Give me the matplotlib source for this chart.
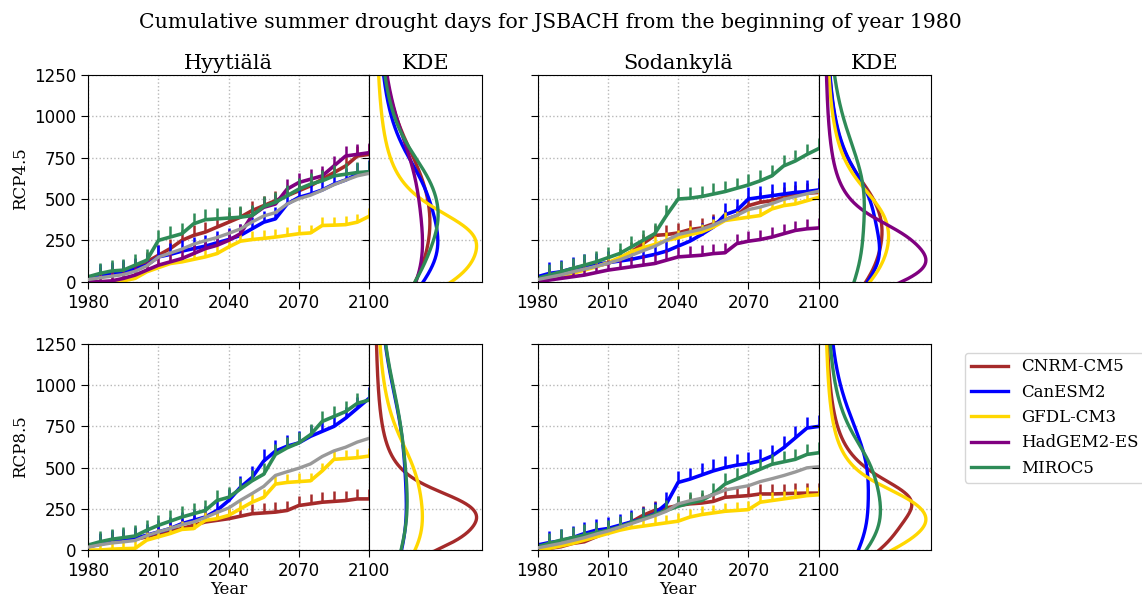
import numpy as np
import matplotlib
matplotlib.use("Agg")
import matplotlib.pyplot as plt
from matplotlib.lines import Line2D

# ---------------- data (every 5 years) ----------------
YEARS = list(range(1980, 2101, 5))
MODELS = ["CNRM-CM5", "CanESM2", "GFDL-CM3", "HadGEM2-ES", "MIROC5"]
COLORS = ["#a52a2a", "#0000ff", "#ffd700", "#800080", "#2e8b57"]

# Hyytiälä RCP4.5
hyy45_cnrm = [15, 30, 45, 60, 80, 120, 160, 200, 250, 280, 300, 330, 360, 390, 430, 460, 490, 520, 550, 580, 620, 660, 700, 760, 770]
hyy45_can = [20, 40, 50, 60, 75, 100, 150, 165, 185, 200, 215, 235, 255, 280, 320, 360, 380, 470, 510, 530, 555, 590, 615, 650, 665]
hyy45_gfdl = [0, 0, 0, 5, 20, 60, 85, 110, 120, 135, 150, 170, 210, 245, 255, 262, 270, 280, 290, 295, 340, 342, 345, 360, 395]
hyy45_had = [0, 0, 5, 20, 40, 70, 100, 120, 140, 170, 200, 220, 250, 290, 400, 450, 470, 560, 600, 620, 640, 700, 760, 770, 780]
hyy45_miroc = [30, 50, 65, 70, 100, 130, 250, 270, 290, 350, 375, 380, 385, 390, 400, 455, 480, 520, 560, 590, 610, 640, 650, 660, 665]

# Sodankylä RCP4.5
sod45_cnrm = [10, 20, 35, 55, 75, 95, 110, 140, 180, 230, 280, 285, 295, 315, 325, 350, 375, 400, 460, 480, 490, 510, 525, 535, 540]
sod45_can = [30, 50, 60, 80, 95, 105, 115, 125, 135, 150, 165, 185, 215, 245, 285, 330, 405, 430, 500, 510, 520, 530, 540, 545, 555]
sod45_gfdl = [5, 15, 30, 50, 70, 90, 115, 145, 180, 205, 225, 250, 265, 285, 300, 330, 370, 380, 390, 400, 440, 460, 470, 490, 510]
sod45_had = [0, 10, 20, 30, 40, 55, 70, 80, 90, 100, 110, 130, 150, 155, 160, 170, 175, 230, 245, 255, 270, 290, 310, 320, 325]
sod45_miroc = [20, 40, 60, 80, 100, 120, 145, 170, 210, 250, 290, 400, 500, 505, 515, 530, 545, 565, 585, 610, 640, 700, 730, 770, 805]

# Hyytiälä RCP8.5 (no HadGEM2-ES run)
hyy85_cnrm = [20, 40, 50, 55, 65, 80, 100, 115, 130, 150, 170, 180, 190, 205, 220, 225, 230, 240, 270, 280, 290, 295, 300, 310, 310]
hyy85_can = [20, 35, 50, 60, 70, 90, 110, 130, 160, 180, 200, 240, 300, 380, 440, 540, 600, 630, 650, 690, 720, 750, 800, 860, 920]
hyy85_gfdl = [0, 0, 5, 8, 10, 60, 80, 100, 125, 130, 180, 190, 210, 250, 290, 320, 400, 410, 415, 420, 480, 550, 555, 560, 570]
hyy85_had = None
hyy85_miroc = [30, 50, 65, 75, 85, 120, 150, 175, 200, 220, 240, 300, 320, 370, 420, 460, 580, 620, 650, 700, 780, 810, 840, 890, 910]

# Sodankylä RCP8.5 (no HadGEM2-ES run)
sod85_cnrm = [0, 10, 20, 40, 50, 80, 110, 140, 170, 210, 240, 255, 270, 280, 285, 295, 320, 325, 330, 340, 340, 342, 344, 345, 345]
sod85_can = [30, 45, 55, 75, 100, 120, 130, 150, 170, 190, 220, 280, 410, 430, 455, 480, 500, 515, 525, 540, 570, 620, 680, 740, 750]
sod85_gfdl = [0, 10, 25, 40, 60, 80, 100, 120, 135, 145, 155, 165, 175, 200, 215, 225, 235, 240, 245, 290, 300, 310, 320, 330, 335]
sod85_had = None
sod85_miroc = [20, 40, 60, 75, 90, 105, 120, 140, 165, 190, 215, 240, 265, 285, 300, 340, 400, 430, 460, 490, 520, 535, 550, 580, 590]

# typical within-summer overshoot (days) of each model's curve
SPIKES = [60, 70, 50, 60, 65]

PANELS = {
    ("RCP4.5", "Hyytiälä"): [hyy45_cnrm, hyy45_can, hyy45_gfdl, hyy45_had, hyy45_miroc],
    ("RCP4.5", "Sodankylä"): [sod45_cnrm, sod45_can, sod45_gfdl, sod45_had, sod45_miroc],
    ("RCP8.5", "Hyytiälä"): [hyy85_cnrm, hyy85_can, hyy85_gfdl, hyy85_had, hyy85_miroc],
    ("RCP8.5", "Sodankylä"): [sod85_cnrm, sod85_can, sod85_gfdl, sod85_had, sod85_miroc],
}
ROWS = ["RCP4.5", "RCP8.5"]
SITES = ["Hyytiälä", "Sodankylä"]
YTICKS = [0, 250, 500, 750, 1000, 1250]
XTICKS = [1980, 2010, 2040, 2070, 2100]

KDE_SCALE_FACTOR = 1.5   # kernel scale relative to the series' spread


def kde(values, grid):
    # heavy-tailed (Cauchy) kernel density estimate
    v = np.asarray(values, float)
    s = KDE_SCALE_FACTOR * v.std()
    z = (grid[:, None] - v[None, :]) / s
    return (1.0 / (np.pi * s * (1 + z ** 2))).mean(axis=1)


serif = "DejaVu Serif"
plt.rcParams["font.family"] = "DejaVu Sans"
plt.rcParams["font.size"] = 12

W, H = 1142, 596
fig = plt.figure(figsize=(W / 100, H / 100), dpi=100)

row_box = {"RCP4.5": (281.7, 75.0), "RCP8.5": (550.0, 344.0)}
col_box = {"Hyytiälä": (88.3, 369.0, 481.7), "Sodankylä": (537.5, 818.7, 931.0)}

grid = np.linspace(-300, 1600, 800)

for row in ROWS:
    yb, yt = row_box[row]
    for site in SITES:
        x0, x1, x2 = col_box[site]
        ax = fig.add_axes([x0 / W, 1 - yb / H, (x1 - x0) / W, (yb - yt) / H])
        axk = fig.add_axes([x1 / W, 1 - yb / H, (x2 - x1) / W, (yb - yt) / H])
        series = PANELS[(row, site)]
        avail = []
        for vals, col, sp in zip(series, COLORS, SPIKES):
            if vals is None:
                continue
            avail.append(vals)
            v = np.asarray(vals, float)
            ax.plot(YEARS, v, color=col, lw=2.6)
            ax.vlines(YEARS[1:], v[1:], v[1:] + sp, color=col, lw=1.8)
        mean = np.mean(np.array(avail, float), axis=0)
        ax.plot(YEARS, mean, color="#999999", lw=2.4, zorder=5)

        ax.set_xlim(1980, 2100)
        ax.set_ylim(0, 1250)
        ax.set_xticks(XTICKS)
        ax.set_yticks(YTICKS)
        ax.grid(True, linestyle=":", color="#b8b8b8", lw=1)
        ax.tick_params(labelsize=12, length=5)
        if site == "Sodankylä":
            ax.set_yticklabels([])
        else:
            ax.set_ylabel(row, family=serif, fontsize=12)
        if row == "RCP8.5":
            ax.set_xlabel("Year", family=serif, fontsize=12, labelpad=1)
        else:
            ax.set_title(site, family=serif, fontsize=15, pad=4)

        # KDE panel
        dmax = 0
        for vals, col in zip(series, COLORS):
            if vals is None:
                continue
            d = kde(vals, grid)
            dmax = max(dmax, d.max())
            axk.plot(d, grid, color=col, lw=2.4)
        axk.set_xlim(-0.05 * dmax, 1.05 * dmax)
        axk.set_ylim(0, 1250)
        axk.set_yticks(YTICKS)
        axk.set_yticklabels([])
        axk.set_xticks([])
        axk.grid(True, axis="y", linestyle=":", color="#b8b8b8", lw=1)
        axk.tick_params(length=5)
        if row == "RCP4.5":
            axk.set_title("KDE", family=serif, fontsize=15, pad=4)

fig.text(0.4816, 0.962, "Cumulative summer drought days for JSBACH from the beginning of year 1980",
         family=serif, fontsize=14.7, ha="center", va="center")

handles = [Line2D([0], [0], color=c, lw=2.4) for c in COLORS]
fig.legend(handles, MODELS, loc="center left", bbox_to_anchor=(965 / W, 1 - 417.5 / H),
           borderaxespad=0, prop={"family": serif, "size": 12}, frameon=True,
           handlelength=2.2, handletextpad=0.8, borderpad=0.35, labelspacing=0.5)

fig.savefig("out.png", dpi=100)
